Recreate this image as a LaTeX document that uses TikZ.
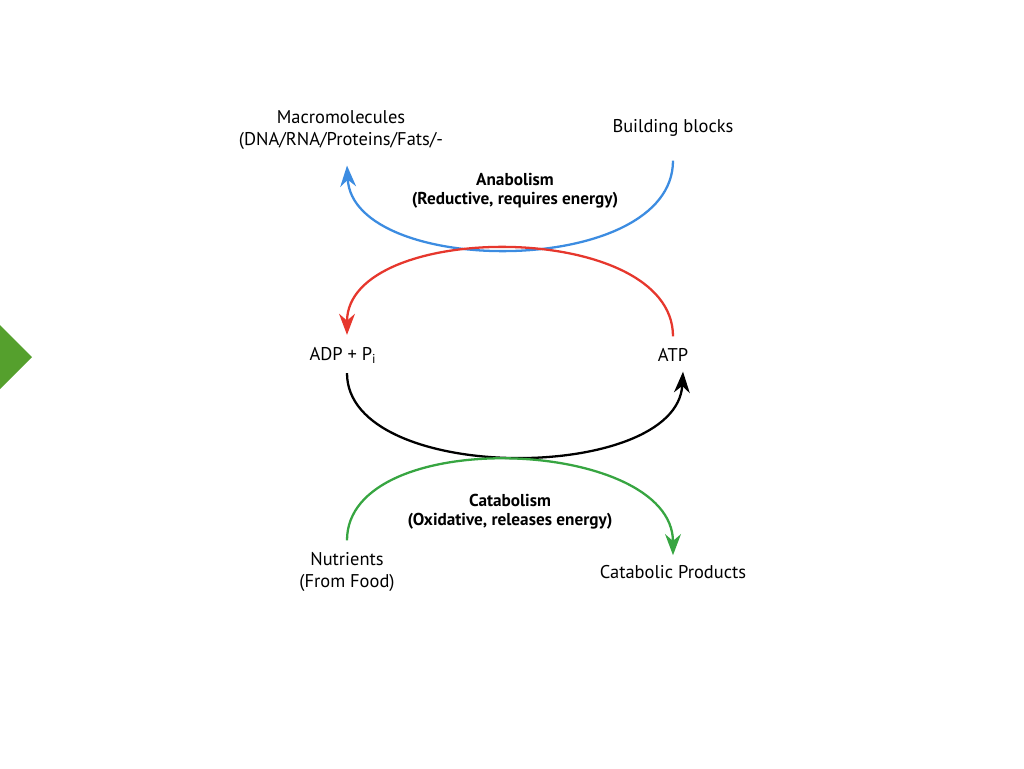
\documentclass[tikz,border=0pt]{standalone}
\usepackage{fontspec}
\setmainfont{PT Sans}
\usetikzlibrary{arrows.meta, positioning, calc}
\definecolor{anabolblue}{RGB}{60,140,225}
\definecolor{energyred}{RGB}{230,55,45}
\definecolor{catabgreen}{RGB}{55,165,65}
\definecolor{markgreen}{RGB}{85,160,45}

\begin{document}
\begin{tikzpicture}[x=0.02cm, y=-0.02cm,
  lbl/.style={align=center, font=\fontsize{10.5}{12.5}\selectfont, inner sep=1pt},
  ttl/.style={align=center, font=\fontsize{9.8}{10.8}\selectfont\bfseries, inner sep=1pt},
  flow/.style={line width=1.3pt, -{Stealth[length=12pt, width=9pt]}}]
  \useasboundingbox (0,0) rectangle (1024,768);
  \fill[markgreen] (0,325) -- (32,357) -- (0,389) -- cycle;

  % labels
  \node[lbl] (macro) at (341,130) {Macromolecules\\(DNA/RNA/Proteins/Fats/-};
  \node[lbl] (blocks) at (673,128) {Building blocks};
  \node[ttl] (anabol) at (515,191) {Anabolism\\(Reductive, requires energy)};
  \node[lbl] (adp) at (343,355) {ADP + P\textsubscript{i}};
  \node[lbl] (atp) at (673,355) {ATP};
  \node[ttl] (catabol) at (510,512) {Catabolism\\(Oxidative, releases energy)};
  \node[lbl] (food) at (347,572) {Nutrients\\(From Food)};
  \node[lbl] (prod) at (673,572) {Catabolic Products};

  % cycles
  \draw[flow, anabolblue] ($(blocks.south)+(0,22)$) .. controls +(0,118) and +(6,112) .. ($(macro.south)+(6,14)$);
  \draw[flow, energyred] ($(atp.north)+(0,-10)$) .. controls +(0,-117) and +(0,-115) .. ($(adp.north)+(4,-10)$);
  \draw[flow, black] ($(adp.south)+(4,8)$) .. controls +(0,112) and +(-6,112) .. ($(atp.south)+(10,8)$);
  \draw[flow, catabgreen] ($(food.north)+(0,-10)$) .. controls +(0,-116) and +(0,-118) .. ($(prod.north)+(0,-8)$);
\end{tikzpicture}
\end{document}
